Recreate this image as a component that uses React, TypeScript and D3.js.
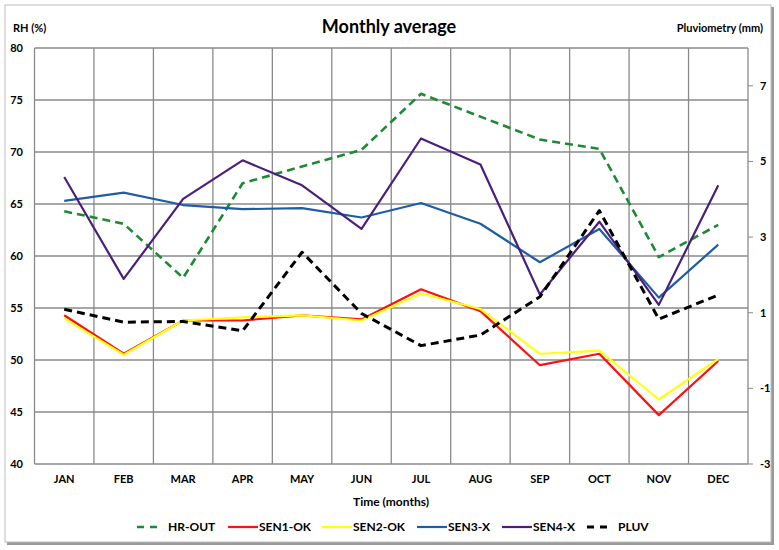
import React from "react";
import * as d3 from "d3";

const months = ["JAN", "FEB", "MAR", "APR", "MAY", "JUN", "JUL", "AUG", "SEP", "OCT", "NOV", "DEC"];
const hrOut = [64.3, 63.1, 57.9, 67.0, 68.6, 70.2, 75.6, 73.4, 71.2, 70.3, 59.9, 63.0];
const sen1 = [54.3, 50.6, 53.8, 53.8, 54.3, 53.9, 56.8, 54.7, 49.5, 50.6, 44.7, 49.9];
const sen2 = [54.0, 50.5, 53.8, 54.1, 54.3, 53.8, 56.4, 54.9, 50.6, 50.9, 46.2, 50.1];
const sen3 = [65.3, 66.1, 64.9, 64.5, 64.6, 63.7, 65.1, 63.1, 59.4, 62.6, 56.0, 61.1];
const sen4 = [67.6, 57.8, 65.5, 69.2, 66.8, 62.6, 71.3, 68.8, 56.3, 63.3, 55.3, 66.8];
const pluv = [1.09, 0.75, 0.77, 0.52, 2.6, 0.98, 0.13, 0.41, 1.42, 3.7, 0.83, 1.47];
const leftTicks = [40, 45, 50, 55, 60, 65, 70, 75, 80];
const rightTicks = [-3, -1, 1, 3, 5, 7];

const seriesDefs = [
  { name: "HR-OUT", data: hrOut, color: "#1e8a34", dash: "8,5", width: 2.6, axis: "left" },
  { name: "SEN1-OK", data: sen1, color: "#ff1010", dash: null, width: 2.2, axis: "left" },
  { name: "SEN2-OK", data: sen2, color: "#ffff10", dash: null, width: 2.2, axis: "left" },
  { name: "SEN3-X", data: sen3, color: "#1f5ca8", dash: null, width: 2.2, axis: "left" },
  { name: "SEN4-X", data: sen4, color: "#4a1f7c", dash: null, width: 2.2, axis: "left" },
  { name: "PLUV", data: pluv, color: "#000000", dash: "8,5", width: 3, axis: "right" },
];

const legendX = [137, 228, 322, 417, 502, 587];

export default function App() {
  const W = 779, H = 550;
  const left = 34.5, right = 748, top = 48, bottom = 464;
  const x = d3.scaleBand<string>().domain(months).range([left, right]);
  const yL = d3.scaleLinear().domain([40, 80]).range([bottom, top]);
  const yR = d3.scaleLinear().domain([-3, 8]).range([bottom, top]);
  const font = "Lato, 'Open Sans', sans-serif";
  const cx = (m: string) => (x(m) as number) + x.bandwidth() / 2;

  const bounds = months.map((m) => x(m) as number).concat([right]);

  return (
    <svg width={W} height={H} style={{ position: "absolute", left: 0, top: 0 }} fontFamily={font}>
      <rect x={0} y={0} width={W} height={H} fill="#ffffff" />
      <rect x={7} y={7} width={767} height={538} fill="#9a9a9a" />
      <rect x={5} y={5} width={766} height={537} fill="#ffffff" stroke="#bdbdbd" strokeWidth={1} />
      <text x={389} y={33} textAnchor="middle" fontSize={18} fontWeight="bold" fill="#000">Monthly average</text>
      <text x={13} y={32} fontSize={11} fontWeight="bold" fill="#000">RH (%)</text>
      <text x={763} y={32} textAnchor="end" fontSize={11} fontWeight="bold" fill="#000">Pluviometry (mm)</text>
      {leftTicks.map((t) => (
        <g key={"l" + t}>
          <line x1={left} x2={right} y1={yL(t)} y2={yL(t)} stroke="#8a8a8a" strokeWidth={1.3} />
          <text x={23} y={yL(t) + 4} textAnchor="end" fontSize={11} fontWeight="bold" fill="#000">{t}</text>
        </g>
      ))}
      {bounds.map((b, i) => (
        <line key={"v" + i} x1={b} x2={b} y1={top} y2={bottom} stroke="#8a8a8a" strokeWidth={1.3} />
      ))}
      {rightTicks.map((t) => (
        <g key={"r" + t}>
          <line x1={right} x2={right + 5} y1={yR(t)} y2={yR(t)} stroke="#8a8a8a" strokeWidth={1} />
          <text x={760} y={yR(t) + 4} fontSize={11} fontWeight="bold" fill="#000">{t}</text>
        </g>
      ))}
      {months.map((m) => (
        <text key={m} x={cx(m)} y={483} textAnchor="middle" fontSize={11} fontWeight="bold" fill="#000">{m}</text>
      ))}
      <text x={391} y={506} textAnchor="middle" fontSize={12} fontWeight="bold" fill="#000">Time (months)</text>
      {seriesDefs.map((s) => {
        const ys = s.axis === "left" ? yL : yR;
        const line = d3.line<number>().x((_, i) => cx(months[i])).y((v) => ys(v));
        return (
          <path key={s.name} d={line(s.data) || ""} fill="none" stroke={s.color} strokeWidth={s.width}
            strokeDasharray={s.dash || undefined} strokeLinejoin="round" />
        );
      })}
      {seriesDefs.map((s, i) => {
        const lx = legendX[i];
        return (
          <g key={"lg" + s.name}>
            <line x1={lx} x2={lx + (s.dash ? 21 : 30)} y1={527} y2={527} stroke={s.color} strokeWidth={s.width}
              strokeDasharray={s.dash ? "7,6" : undefined} />
            <text x={lx + (s.dash ? 31 : 31)} y={531} fontSize={12} fontWeight="bold" fill="#000">{s.name}</text>
          </g>
        );
      })}
    </svg>
  );
}
